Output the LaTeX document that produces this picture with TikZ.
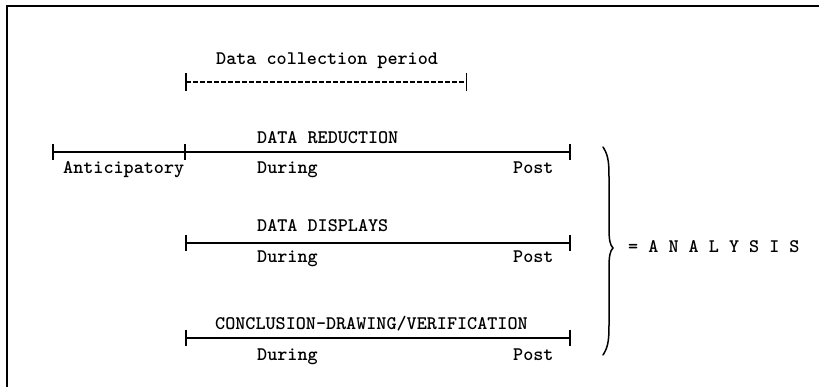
\documentclass[tikz,border=0pt]{standalone}
\usetikzlibrary{arrows.meta}
\begin{document}
\begin{tikzpicture}[x=1pt,y=-1pt,
  lbl/.style={anchor=base west,inner sep=0pt,font=\fontsize{19.2}{22}\selectfont\ttfamily\bfseries},
  span/.style={line width=1.6pt,{Bar[width=16pt,line width=1.6pt]}-{Bar[width=16pt,line width=1.6pt]}},
  midtick/.style={line width=1.6pt},
  dspan/.style={line width=1.2pt,dash pattern=on 5pt off 2pt,{Bar[width=18pt,line width=1.5pt]}-{Bar[width=18pt,line width=1.5pt]}},
  frame/.style={line width=2.4pt},
  bracestroke/.style={line width=1.5pt,line cap=round}]
\useasboundingbox (0,0) rectangle (819,387);

% open frame (top and left edges)
\draw[frame] (819,6) -- (7,6) -- (7,387);

% data collection period
\node[lbl] (dctitle) at (216,65) {Data collection period};
\coordinate (dcL) at (185,82);
\coordinate (dcR) at (467,82);
\draw[dspan] (dcL) -- (dcR);

% row 1: data reduction, with the anticipatory stretch before it
\coordinate (r1a) at (52,152);
\coordinate (r1b) at (185,152);
\coordinate (r1c) at (571,152);
\coordinate (r1bt) at (185,144);
\coordinate (r1bb) at (185,160);
\draw[span] (r1a) -- (r1c);
\draw[midtick] (r1bt) -- (r1bb);
\node[lbl] (red) at (257,144) {DATA REDUCTION};
\node[lbl] (ant) at (63,174) {Anticipatory};
\node[lbl] (dur1) at (257,174) {During};
\node[lbl] (post1) at (513,174) {Post};

% row 2: data displays
\coordinate (r2a) at (185,243);
\coordinate (r2b) at (571,243);
\draw[span] (r2a) -- (r2b);
\node[lbl] (disp) at (257,232) {DATA DISPLAYS};
\node[lbl] (dur2) at (257,263) {During};
\node[lbl] (post2) at (513,263) {Post};

% row 3: conclusion drawing
\coordinate (r3a) at (185,338);
\coordinate (r3b) at (571,338);
\draw[span] (r3a) -- (r3b);
\node[lbl] (concl) at (215,330) {CONCLUSION-DRAWING/VERIFICATION};
\node[lbl] (dur3) at (257,360) {During};
\node[lbl] (post3) at (513,360) {Post};

% right-hand brace gathering the three rows
\draw[bracestroke] (603,147) .. controls (609,156) and (609,165) .. (609,180)
  -- (609,228) .. controls (609,240) and (610,245) .. (613,248)
  .. controls (610,251) and (609,256) .. (609,268)
  -- (609,322) .. controls (609,337) and (609,346) .. (603,355);

\node[lbl] (analysis) at (628,253) {= A N A L Y S I S};
\end{tikzpicture}
\end{document}
